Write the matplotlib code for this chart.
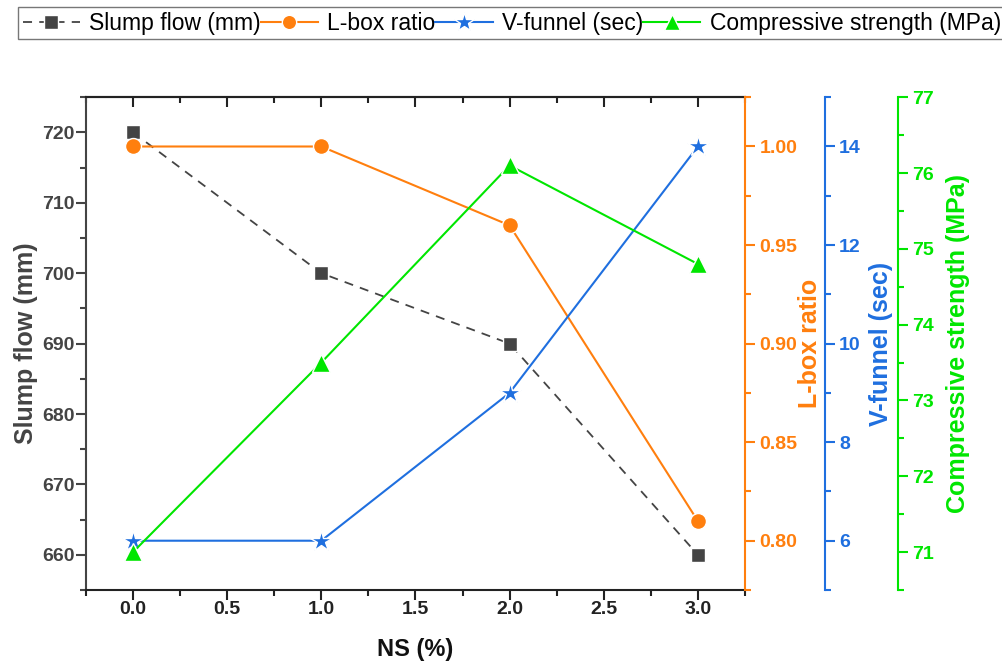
import matplotlib.pyplot as plt
from matplotlib.ticker import MultipleLocator

plt.rcParams['font.family'] = ['Liberation Sans', 'DejaVu Sans']

ns = [0.0, 1.0, 2.0, 3.0]
slump = [720, 700, 690, 660]
lbox = [1.00, 1.00, 0.96, 0.81]
vfunnel = [6, 6, 9, 14]
comp = [71.0, 73.5, 76.1, 74.8]

c_slump = '#444444'
c_lbox = '#FF7F0E'
c_vf = '#1F6FDF'
c_comp = '#00E600'

fig = plt.figure(figsize=(10.03, 6.65), dpi=100)
ax = fig.add_axes([0.0857, 0.1128, 0.657, 0.741])
ax2 = ax.twinx()
ax3 = ax.twinx()
ax4 = ax.twinx()
ax3.spines['right'].set_position(('axes', 1.121))
ax4.spines['right'].set_position(('axes', 1.232))

mk = dict(markeredgecolor='white', markeredgewidth=1.0)
l1, = ax.plot(ns, slump, color=c_slump, ls=(0, (5, 4)), lw=1.3, marker='s', ms=10.5, **mk,
              label='Slump flow (mm)')
l2, = ax2.plot(ns, lbox, color=c_lbox, lw=1.5, marker='o', ms=11.5, **mk, label='L-box ratio')
l3, = ax3.plot(ns, vfunnel, color=c_vf, lw=1.5, marker='*', ms=16, **mk, label='V-funnel (sec)')
l4, = ax4.plot(ns, comp, color=c_comp, lw=1.5, marker='^', ms=13, **mk,
               label='Compressive strength (MPa)')

ax.set_xlim(-0.25, 3.25)
ax.set_ylim(655, 725)
ax2.set_ylim(0.775, 1.025)
ax3.set_ylim(5, 15)
ax4.set_ylim(70.5, 77)

ax.xaxis.set_major_locator(MultipleLocator(0.5))
ax.xaxis.set_minor_locator(MultipleLocator(0.25))
ax.yaxis.set_major_locator(MultipleLocator(10))
ax.yaxis.set_minor_locator(MultipleLocator(5))
ax2.yaxis.set_major_locator(MultipleLocator(0.05))
ax2.yaxis.set_minor_locator(MultipleLocator(0.025))
ax3.yaxis.set_major_locator(MultipleLocator(2))
ax3.yaxis.set_minor_locator(MultipleLocator(1))
ax4.yaxis.set_major_locator(MultipleLocator(1))
ax4.yaxis.set_minor_locator(MultipleLocator(0.5))
ax2.yaxis.set_major_formatter(plt.FormatStrFormatter('%.2f'))
ax.xaxis.set_major_formatter(plt.FormatStrFormatter('%.1f'))

tick_fs = 14
lab_fs = 18
for a in (ax, ax2, ax3, ax4):
    for s in a.spines.values():
        s.set_linewidth(1.5)

ax.spines['left'].set_color(c_slump)
ax.spines['bottom'].set_color('#222222')
ax.spines['top'].set_color('#222222')
ax.spines['right'].set_visible(False)
ax.tick_params(axis='x', which='both', direction='out', width=1.5, colors='#222222',
               labelsize=tick_fs, pad=1)
ax.tick_params(axis='x', which='major', length=7)
ax.tick_params(axis='x', which='minor', length=4)
ax.tick_params(axis='y', which='both', direction='out', width=1.5, colors=c_slump,
               labelsize=tick_fs, pad=1)
ax.tick_params(axis='y', which='major', length=7)
ax.tick_params(axis='y', which='minor', length=4)

top = ax.secondary_xaxis('top')
top.xaxis.set_major_locator(MultipleLocator(0.5))
top.xaxis.set_minor_locator(MultipleLocator(0.25))
top.tick_params(axis='x', which='both', direction='in', width=1.5, colors='#222222',
                labeltop=False)
top.tick_params(axis='x', which='major', length=7)
top.tick_params(axis='x', which='minor', length=4)
top.spines['top'].set_linewidth(1.5)
top.spines['top'].set_color('#222222')

for a, c in ((ax2, c_lbox), (ax3, c_vf), (ax4, c_comp)):
    for side in ('left', 'top', 'bottom'):
        a.spines[side].set_visible(False)
    a.spines['right'].set_color(c)
    a.tick_params(axis='y', which='both', direction='out', width=1.5, colors=c,
                  labelsize=tick_fs)
    a.tick_params(axis='y', which='major', length=7)
    a.tick_params(axis='y', which='minor', length=4)

for a in (ax, ax2, ax3, ax4):
    for t in a.get_yticklabels() + a.get_xticklabels():
        t.set_fontweight('bold')

ax.set_xlabel('NS (%)', fontsize=17, fontweight='bold', color='#111111', labelpad=14)
ax.set_ylabel('Slump flow (mm)', fontsize=lab_fs, fontweight='bold', color=c_slump, labelpad=3)
ax2.set_ylabel('L-box ratio', fontsize=lab_fs, fontweight='bold', color=c_lbox, labelpad=0)
ax3.set_ylabel('V-funnel (sec)', fontsize=lab_fs, fontweight='bold', color=c_vf, labelpad=6)
ax4.set_ylabel('Compressive strength (MPa)', fontsize=lab_fs, fontweight='bold', color=c_comp,
               labelpad=8.5)

leg = fig.legend(handles=[l1, l2, l3, l4], loc='upper left',
                 bbox_to_anchor=(18 / 1003, 1 - 7 / 665), ncol=4, frameon=True,
                 fancybox=False, edgecolor='#555555', fontsize=16.5, columnspacing=0.0,
                 handlelength=2.5, handletextpad=0.4, borderpad=0.2, borderaxespad=0,
                 markerscale=0.9)
leg.get_frame().set_linewidth(1.0)

fig.savefig('out.png', dpi=100)
